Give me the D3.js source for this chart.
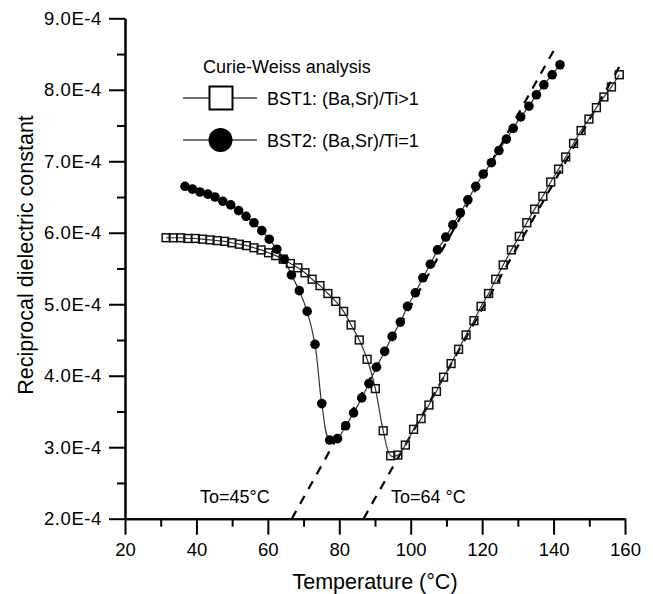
<!DOCTYPE html>
<html>
<head>
<meta charset="utf-8">
<script src="https://cdn.jsdelivr.net/npm/d3@7"></script>
<style>
  body { margin: 0; background: #fff; }
  text { font-family: "Liberation Sans", Arial, sans-serif; fill: #000; }
</style>
</head>
<body>
<svg id="chart" width="653" height="594"></svg>
<script>
// values are reciprocal dielectric constant in units of 1E-4
const bst1Temp = [31.5, 33.5, 35.6, 37.6, 39.7, 41.7, 43.8, 45.8, 47.9, 49.9,
  52.0, 54.0, 56.1, 58.1, 60.2, 62.2, 64.3, 66.3, 68.4, 70.4,
  72.4, 74.6, 76.8, 79.0, 81.2, 83.3, 85.6, 87.8, 90.1, 92.3,
  94.4, 96.4, 98.5, 100.8, 102.9, 105.1, 107.2, 109.2, 111.3, 113.4,
  115.5, 117.7, 119.7, 121.8, 123.8, 125.9, 128.2, 130.4, 132.5, 134.7,
  137.0, 139.2, 141.4, 143.4, 145.6, 147.7, 149.9, 152.0, 154.1, 156.2, 158.4];
const bst1Recip = [5.93, 5.93, 5.93, 5.92, 5.92, 5.91, 5.90, 5.89, 5.88, 5.86,
  5.84, 5.82, 5.79, 5.76, 5.72, 5.68, 5.63, 5.57, 5.51, 5.44,
  5.35, 5.26, 5.15, 5.04, 4.90, 4.71, 4.50, 4.23, 3.82, 3.23,
  2.88, 2.89, 3.03, 3.25, 3.40, 3.59, 3.78, 3.98, 4.17, 4.37,
  4.57, 4.77, 4.97, 5.15, 5.35, 5.55, 5.76, 5.95, 6.14, 6.33,
  6.51, 6.71, 6.89, 7.06, 7.25, 7.43, 7.59, 7.75, 7.90, 8.04, 8.21];

const bst2Temp = [36.8, 38.9, 41.0, 43.2, 45.2, 47.4, 49.6, 51.8, 53.9, 56.1,
  58.3, 60.4, 62.5, 64.6, 66.6, 68.8, 71.0, 73.2, 75.1, 77.3,
  79.5, 81.8, 84.0, 86.3, 88.3, 90.4, 92.7, 94.8, 97.1, 99.1,
  101.3, 103.4, 105.5, 107.5, 109.8, 111.8, 113.9, 116.0, 118.2, 120.3,
  122.6, 124.7, 126.8, 128.7, 130.8, 133.1, 135.2, 137.3, 139.6, 141.8];
const bst2Recip = [6.65, 6.61, 6.57, 6.54, 6.50, 6.44, 6.39, 6.31, 6.23, 6.14,
  6.03, 5.91, 5.77, 5.63, 5.41, 5.19, 4.90, 4.44, 3.61, 3.10,
  3.12, 3.30, 3.48, 3.69, 3.89, 4.12, 4.34, 4.55, 4.75, 4.97,
  5.16, 5.37, 5.56, 5.76, 5.94, 6.11, 6.28, 6.46, 6.65, 6.82,
  6.98, 7.15, 7.31, 7.46, 7.62, 7.77, 7.93, 8.07, 8.21, 8.35];

// Curie-Weiss fit lines (end points)
const fit1Temp = [86.8, 158.5];
const fit1Recip = [2.0, 8.33];
const fit2Temp = [66.7, 140.5];
const fit2Recip = [2.0, 8.59];

const xMajor = [20, 40, 60, 80, 100, 120, 140, 160];
const xMinor = [30, 50, 70, 90, 110, 130, 150];
const yMajor = [2, 3, 4, 5, 6, 7, 8, 9];
const yMinor = [2.5, 3.5, 4.5, 5.5, 6.5, 7.5, 8.5];

const notes = [
  { t: "To=45°C", x: 200, y: 503 },
  { t: "To=64 °C", x: 391, y: 503 }
];

const svg = d3.select("#chart");
const x = d3.scaleLinear().domain([20, 160]).range([125, 625]);
const y = d3.scaleLinear().domain([2, 9]).range([518.7, 18.3]);

const zip = (a, b) => a.map((d, i) => [d, b[i]]);
const bst1 = zip(bst1Temp, bst1Recip);
const bst2 = zip(bst2Temp, bst2Recip);

// Axes
const axisY = svg.append("g").attr("transform", `translate(${x(20)},0)`)
  .call(d3.axisLeft(y).tickValues(yMajor).tickSize(16).tickSizeOuter(0).tickPadding(7)
    .tickFormat(d => d.toFixed(1) + "E-4"));
svg.append("g").attr("transform", `translate(${x(20)},0)`)
  .call(d3.axisLeft(y).tickValues(yMinor).tickSize(8).tickSizeOuter(0).tickFormat(""));
const axisX = svg.append("g").attr("transform", `translate(0,${y(2)})`)
  .call(d3.axisBottom(x).tickValues(xMajor).tickSize(16).tickSizeOuter(0).tickPadding(8));
svg.append("g").attr("transform", `translate(0,${y(2)})`)
  .call(d3.axisBottom(x).tickValues(xMinor).tickSize(8).tickSizeOuter(0).tickFormat(""));

svg.selectAll(".domain, .tick line").attr("stroke", "#000").attr("stroke-width", 2);
svg.selectAll(".tick text").style("font-size", "18.5px").attr("fill", "#000");
axisY.selectAll(".tick text").style("letter-spacing", "0.6px");

svg.append("text").attr("x", 375).attr("y", 589).attr("text-anchor", "middle")
  .style("font-size", "21.5px").text("Temperature (°C)");
svg.append("text").attr("transform", "translate(33,255) rotate(-90)")
  .attr("text-anchor", "middle").style("font-size", "21.5px")
  .text("Reciprocal dielectric constant");

// fit lines
const line = d3.line().x(d => x(d[0])).y(d => y(d[1]));
[zip(fit1Temp, fit1Recip), zip(fit2Temp, fit2Recip)].forEach(f => {
  svg.append("path").attr("d", line(f))
    .attr("fill", "none").attr("stroke", "#000").attr("stroke-width", 2.2)
    .attr("stroke-dasharray", "9,8");
});

// data curves
const curve = d3.line().x(d => x(d[0])).y(d => y(d[1])).curve(d3.curveCatmullRom.alpha(0.5));
[bst1, bst2].forEach(s => {
  svg.append("path").attr("d", curve(s))
    .attr("fill", "none").attr("stroke", "#333").attr("stroke-width", 1.2);
});

const sq = 7.8;
svg.append("g").selectAll("rect").data(bst1).enter().append("rect")
  .attr("x", d => x(d[0]) - sq / 2)
  .attr("y", d => y(d[1]) - sq / 2)
  .attr("width", sq).attr("height", sq)
  .attr("fill", "none").attr("stroke", "#111").attr("stroke-width", 1.5);

svg.append("g").selectAll("circle").data(bst2).enter().append("circle")
  .attr("cx", d => x(d[0]))
  .attr("cy", d => y(d[1]))
  .attr("r", 4.8)
  .attr("fill", "#000");

// notes
svg.selectAll(".note").data(notes).enter().append("text")
  .attr("class", "note")
  .attr("x", d => d.x).attr("y", d => d.y)
  .style("font-size", "18px")
  .text(d => d.t);

// Legend
const legend = svg.append("g");
legend.append("text").attr("x", 203).attr("y", 73).style("font-size", "18px")
  .text("Curie-Weiss analysis");
legend.append("line").attr("x1", 183).attr("x2", 257).attr("y1", 98).attr("y2", 98)
  .attr("stroke", "#444").attr("stroke-width", 1.5);
legend.append("rect").attr("x", 209.5).attr("y", 86.5).attr("width", 23).attr("height", 23)
  .attr("fill", "#fff").attr("stroke", "#000").attr("stroke-width", 2);
legend.append("text").attr("x", 267).attr("y", 104.5).style("font-size", "18px")
  .text("BST1: (Ba,Sr)/Ti>1");
legend.append("line").attr("x1", 183).attr("x2", 257).attr("y1", 140).attr("y2", 140)
  .attr("stroke", "#444").attr("stroke-width", 1.5);
legend.append("circle").attr("cx", 220.5).attr("cy", 140).attr("r", 12).attr("fill", "#000");
legend.append("text").attr("x", 267).attr("y", 146.5).style("font-size", "18px")
  .text("BST2: (Ba,Sr)/Ti=1");
</script>
</body>
</html>
